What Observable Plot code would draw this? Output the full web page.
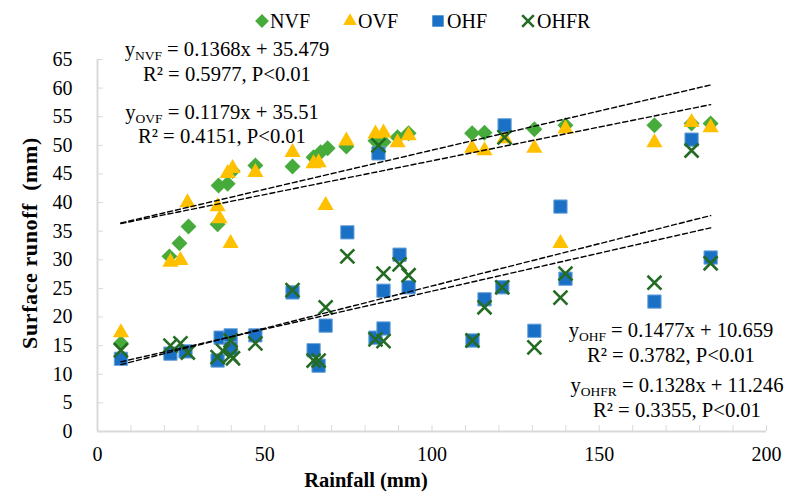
<!DOCTYPE html>
<html><head><meta charset="utf-8">
<script src="https://cdn.jsdelivr.net/npm/d3@7"></script>
<script src="https://cdn.jsdelivr.net/npm/@observablehq/plot@0.6"></script>
<style>
body{margin:0;background:#fff}
#chart svg, #chart svg text, #chart svg tspan{font-family:"Liberation Serif","Times New Roman",serif !important}
</style>
</head><body><div id="chart"></div>
<script>
// ---- data ----
const nvfX = [7, 21.5, 24.5, 27.2, 35.9, 36.2, 38.9, 40.4, 47.2, 58.3, 64.6, 66.7, 68.8, 74.4, 83.1, 85.5, 89.7, 93, 112, 115.7, 121.7, 130.6, 139.9, 166.5, 177.6, 183.3];
const nvfY = [15.4, 30.6, 32.9, 35.8, 36.2, 43.0, 43.3, 45.5, 46.5, 46.3, 47.9, 48.8, 49.5, 49.8, 50.8, 50.6, 51.4, 52.1, 52.1, 52.2, 52.5, 52.8, 53.5, 53.5, 53.8, 53.8];

const ovfX = [7, 21.8, 24.8, 26.9, 35.9, 36.5, 38.9, 39.8, 40.4, 47.2, 58.3, 64.6, 66.1, 68.2, 74.4, 83.1, 85.5, 89.7, 93, 112, 115.7, 121.7, 130.6, 138.4, 139.9, 166.5, 177.6, 183.3];
const ovfY = [17.3, 29.6, 29.9, 40.0, 39.3, 37.2, 45.1, 32.9, 46.0, 45.3, 48.8, 46.8, 47.0, 39.5, 50.8, 52.0, 52.2, 50.5, 51.7, 49.5, 49.1, 51.2, 49.5, 32.9, 52.9, 50.5, 54.0, 53.1];

const ohfX = [7, 21.8, 26.3, 35.9, 36.8, 39.8, 39.8, 47.2, 58.3, 64.6, 66.1, 68.2, 74.7, 83.1, 84, 85.5, 85.5, 90.3, 93, 112.1, 115.7, 121, 121.7, 130.6, 138.4, 139.9, 166.5, 177.6, 183.3];
const ohfY = [12.7, 13.6, 14.0, 12.4, 16.4, 16.8, 14.5, 16.8, 24.3, 14.2, 11.5, 18.5, 34.8, 16.4, 48.6, 18.0, 24.6, 30.9, 25.2, 15.9, 23.1, 25.2, 53.5, 17.6, 39.3, 26.7, 22.7, 51.0, 30.4];

const ohfrX = [7, 21.8, 24.8, 27, 35.9, 37.5, 39.8, 39.8, 40.5, 47.2, 58.3, 64.6, 66.1, 68.2, 74.7, 83.1, 84, 85.5, 85.5, 90.3, 93, 112.1, 115.7, 121, 121.7, 130.6, 138.4, 139.9, 166.5, 177.6, 183.3];
const ohfrY = [14.2, 15.0, 15.4, 13.8, 13.0, 14.1, 13.3, 15.9, 12.8, 15.4, 24.7, 12.4, 12.4, 21.7, 30.6, 16.1, 50.0, 27.6, 15.8, 29.2, 27.3, 15.9, 21.7, 25.2, 51.4, 14.7, 23.4, 27.6, 26.0, 49.1, 29.4];

// regression equations printed on the chart
const fitNames = ["NVF", "OVF", "OHF", "OHFR"];
const fitSlopes = [0.1368, 0.1179, 0.1477, 0.1328];
const fitIntercepts = [35.479, 35.51, 10.659, 11.246];
const fitEquations = [" = 0.1368x + 35.479", " = 0.1179x + 35.51", " = 0.1477x + 10.659", " = 0.1328x + 11.246"];
const fitStats = ["R² = 0.5977, P<0.01", "R² = 0.4151, P<0.01", "R² = 0.3782, P<0.01", "R² = 0.3355, P<0.01"];

const yTicks = [0, 5, 10, 15, 20, 25, 30, 35, 40, 45, 50, 55, 60, 65];
const xTicks = [0, 50, 100, 150, 200];
const xMinorTicks = [0, 10, 20, 30, 40, 50, 60, 70, 80, 90, 100, 110, 120, 130, 140, 150, 160, 170, 180, 190, 200];

// ---- build tables ----
const seriesData = {NVF: [nvfX, nvfY], OVF: [ovfX, ovfY], OHF: [ohfX, ohfY], OHFR: [ohfrX, ohfrY]};
const pts = name => seriesData[name][0].map((x, i) => ({x, y: seriesData[name][1][i]}));
const fitRows = fitNames.flatMap((n, i) => {
  const xs = seriesData[n][0];
  return d3.extent(xs).map(x => ({series: n, x, y: fitSlopes[i] * x + fitIntercepts[i]}));
});

const colors = {NVF: "#46AB3B", OVF: "#FFC000", OHF: "#1A70C5", OHFR: "#246B24"};
const axisGray = "#d9d9d9";
const FONT = '"Liberation Serif","Times New Roman",serif';
const FS = 20;
const EQFS = 20.6;

const plot = Plot.plot({
  width: 794, height: 496,
  marginLeft: 97, marginRight: 28, marginTop: 59, marginBottom: 65,
  style: {fontFamily: FONT, background: "#fff", overflow: "visible"},
  x: {domain: [0, 200], label: null},
  y: {domain: [0, 65], label: null},
  marks: [
    Plot.ruleX([0], {stroke: axisGray, strokeWidth: 2}),
    Plot.ruleY([0], {stroke: axisGray, strokeWidth: 2}),
    Plot.axisY(yTicks, {anchor: "left", tickSize: -6, tickPadding: 31, stroke: axisGray, fill: "#000", fontSize: FS, label: null}),
    Plot.axisX(xMinorTicks, {anchor: "bottom", tickSize: -6, stroke: axisGray, tickFormat: () => "", label: null}),
    Plot.axisX(xTicks, {anchor: "bottom", tickSize: 0, tickPadding: 15, fill: "#000", fontSize: FS, label: null}),
    Plot.dot(pts("NVF"), {x: "x", y: "y", symbol: "diamond2", fill: colors.NVF, stroke: null, r: 7.2}),
    Plot.dot(pts("OVF"), {x: "x", y: "y", symbol: "triangle", fill: colors.OVF, stroke: null, r: 6}),
    Plot.dot(pts("OHF"), {x: "x", y: "y", symbol: "square", fill: colors.OHF, stroke: "#6FA6DC", strokeWidth: 1, r: 7.5}),
    Plot.dot(pts("OHFR"), {x: "x", y: "y", symbol: "times", stroke: colors.OHFR, strokeWidth: 2.6, r: 6.4}),
    Plot.line(fitRows, {x: "x", y: "y", z: "series", stroke: "#000", strokeWidth: 1.4, strokeDasharray: "5,3"})
  ]
});
plot.setAttribute("font-family", FONT);
document.getElementById("chart").appendChild(plot);

const svg = d3.select(plot);

// legend
const legendItems = [
  {name: "NVF", sym: d3.symbolDiamond2, size: Math.PI * 6.2 * 6.2, fill: colors.NVF, cx: 262, tx: 270},
  {name: "OVF", sym: d3.symbolTriangle, size: 80, fill: colors.OVF, cx: 350, tx: 358},
  {name: "OHF", sym: d3.symbolSquare, size: 130, fill: colors.OHF, cx: 438, tx: 447},
  {name: "OHFR", sym: d3.symbolTimes, size: 90, stroke: colors.OHFR, cx: 528, tx: 537}
];
const lg = svg.append("g").attr("font-family", FONT);
legendItems.forEach(d => {
  const p = lg.append("path")
    .attr("d", d3.symbol(d.sym, d.size)())
    .attr("transform", `translate(${d.cx},21)`);
  if (d.stroke) p.attr("fill", "none").attr("stroke", d.stroke).attr("stroke-width", 2.6);
  else p.attr("fill", d.fill);
  lg.append("text").attr("x", d.tx).attr("y", 28).attr("text-anchor", "start")
    .attr("font-size", FS).attr("fill", "#000").text(d.name);
});

// equations
const eqPos = [
  {cx: 227, y1: 56, y2: 81},
  {cx: 222, y1: 119, y2: 143},
  {cx: 671, y1: 337, y2: 362},
  {cx: 677, y1: 392, y2: 417}
];
fitNames.forEach((n, i) => {
  const p = eqPos[i];
  const t = svg.append("text").attr("x", p.cx).attr("y", p.y1).attr("text-anchor", "middle")
    .attr("font-family", FONT).attr("font-size", EQFS).attr("fill", "#000");
  t.append("tspan").text("y");
  t.append("tspan").attr("font-size", 13.5).attr("dy", 4).text(n);
  t.append("tspan").attr("dy", -4).text(fitEquations[i]);
  svg.append("text").attr("x", p.cx).attr("y", p.y2).attr("text-anchor", "middle")
    .attr("font-family", FONT).attr("font-size", EQFS).attr("fill", "#000").text(fitStats[i]);
});

// axis titles
svg.append("text").attr("x", 366).attr("y", 487).attr("text-anchor", "middle").attr("font-family", FONT)
  .attr("font-size", 20.5).attr("font-weight", "bold").attr("fill", "#000").text("Rainfall (mm)");
svg.append("text").attr("transform", "translate(37,243) rotate(-90)").attr("text-anchor", "middle").attr("font-family", FONT)
  .attr("font-size", 22).attr("letter-spacing", 0.6).attr("font-weight", "bold").attr("fill", "#000")
  .text("Surface runoff  (mm)");
</script>
</body></html>
